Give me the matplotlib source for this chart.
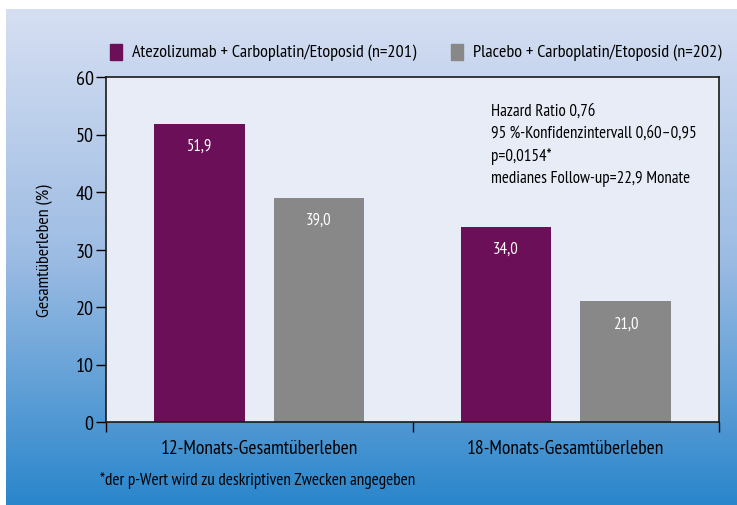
import numpy as np
import matplotlib.pyplot as plt
from matplotlib.colors import LinearSegmentedColormap
from matplotlib.patches import Rectangle
from matplotlib import font_manager

# data
categories = ['12-Monats-Gesamtüberleben', '18-Monats-Gesamtüberleben']
atezo_values = [51.9, 34.0]
placebo_values = [39.0, 21.0]
series_names = ['Atezolizumab + Carboplatin/Etoposid (n=201)',
                'Placebo + Carboplatin/Etoposid (n=202)']
y_ticks = [0, 10, 20, 30, 40, 50, 60]
info_lines = ['Hazard Ratio 0,76',
              '95\u2009%-Konfidenzintervall 0,60\u20130,95',
              'p=0,0154*',
              'medianes Follow-up=22,9 Monate']
footnote = '*der p-Wert wird zu deskriptiven Zwecken angegeben'

# condensed face if there is one, DejaVu otherwise
names = {f.name for f in font_manager.fontManager.ttflist}
wanted = ['PT Sans Narrow', 'Fira Sans Condensed', 'Roboto Condensed',
          'Open Sans Condensed', 'Encode Sans Condensed', 'Archivo Narrow',
          'Liberation Sans Narrow']
family = [f for f in wanted if f in names][:1] + ['DejaVu Sans']
plt.rcParams['font.family'] = family

purple = '#6A0F58'
grey = '#888888'

W, H = 737, 506
fig = plt.figure(figsize=(W / 100, H / 100), dpi=100)
fig.patch.set_facecolor('white')

# gradient background panel
bg = fig.add_axes([6 / W, 0, 1 - 6 / W, (H - 10) / H], zorder=0)
cmap = LinearSegmentedColormap.from_list('bg', ['#D6DFF2', '#9DBCE3', '#2A86CB'])
grad = np.linspace(0, 1, 256).reshape(-1, 1)
bg.imshow(grad, aspect='auto', cmap=cmap, extent=[0, 1, 0, 1], origin='upper')
bg.set_axis_off()

# main axes
ax = fig.add_axes([106 / W, (H - 423) / H, (719 - 106) / W, (423 - 78) / H], zorder=1)
ax.set_facecolor('#E8ECF7')

x = np.array([0.5, 1.5])
off = 0.195
width = 0.295
b1 = ax.bar(x - off, atezo_values, width, color=purple, zorder=2)
b2 = ax.bar(x + off, placebo_values, width, color=grey, zorder=2)

for bars, vals in ((b1, atezo_values), (b2, placebo_values)):
    for rect, v in zip(bars, vals):
        ax.text(rect.get_x() + rect.get_width() / 2, v - 3.9,
                f'{v:.1f}'.replace('.', ','), ha='center', va='center',
                color='white', fontsize=12)

ax.set_xlim(0, 2)
ax.set_ylim(0, 60)
ax.set_yticks(y_ticks)
ax.set_yticklabels([str(t) for t in y_ticks], fontsize=14.5)
ax.tick_params(axis='y', direction='out', length=7, width=1, pad=2)
ax.set_xticks([0, 1, 2])
ax.set_xticklabels(['', '', ''])
ax.tick_params(axis='x', direction='out', length=7, width=1)
ax.set_xticks(x, minor=True)
ax.set_xticklabels(categories, minor=True, fontsize=14)
ax.tick_params(axis='x', which='minor', length=0, pad=12)
for s in ax.spines.values():
    s.set_linewidth(1.2)
    s.set_color('#1a1a1a')

ax.set_ylabel('Gesamtüberleben (%)', fontsize=13, labelpad=16)

ax.text(0.628, 0.925, '\n'.join(info_lines), transform=ax.transAxes,
        ha='left', va='top', fontsize=12.2, linespacing=1.5)

# legend drawn as patches + text in figure coords
for xs, name, col in ((110, series_names[0], purple), (451, series_names[1], grey)):
    fig.patches.append(Rectangle((xs / W, (H - 61) / H), 12 / W, 16 / H,
                                 transform=fig.transFigure, color=col, zorder=3))
    fig.text((xs + 22) / W, (H - 53) / H, name, ha='left', va='center',
             fontsize=13.1, zorder=3)

fig.text(100 / W, (H - 481) / H, footnote, ha='left', va='center', fontsize=12.3)

fig.savefig('out.png', dpi=100, facecolor=fig.get_facecolor())
